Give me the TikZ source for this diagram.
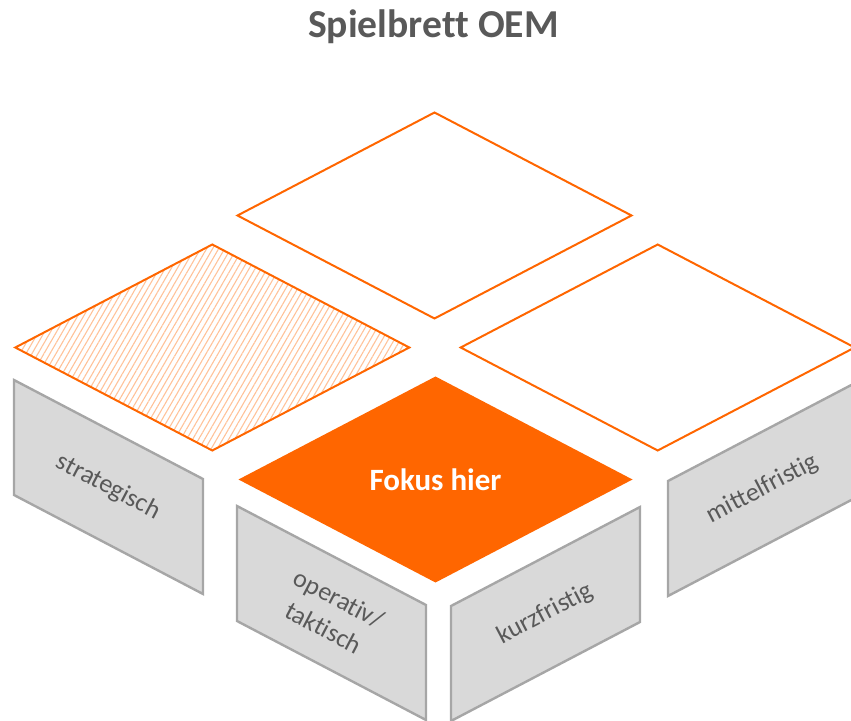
\documentclass[tikz,border=0pt]{standalone}
\usepackage{fontspec}
\setmainfont{Carlito}[Ligatures=NoCommon]
\usetikzlibrary{positioning}
\usetikzlibrary{patterns.meta}
\definecolor{oemorange}{HTML}{FF6600}
\definecolor{panelgray}{HTML}{D9D9D9}
\definecolor{panelline}{HTML}{A6A6A6}
\definecolor{textgray}{HTML}{595959}

\begin{document}
\begin{tikzpicture}[x=0.5pt, y=-0.5pt,
    field/.style={draw=oemorange, line width=1pt},
    hatched/.style={pattern={Lines[angle=60, distance=2.6pt, line width=0.55pt]},
                    pattern color=oemorange!40},
    panel/.style={draw=panelline, fill=panelgray, line width=1.2pt},
    panellabel/.style={text=textgray, align=center,
                       font=\fontsize{13}{16.5}\selectfont}]
  \useasboundingbox (0,0) rectangle (851,721);
  \clip (0,0) rectangle (851,721);

  \node[anchor=base, text=textgray, font=\bfseries\fontsize{19.8}{22}\selectfont]
    (titel) at (433.5,37.5) {Spielbrett OEM};

  % board fields, half width 197, half height 103
  \coordinate (oben)   at (434.5,215.5);
  \coordinate (links)  at (212.3,347.5);
  \coordinate (rechts) at (657.7,347.5);
  \coordinate (fokus)  at (435.5,479.5);
  \draw[field, hatched] (links) ++(0,-103) -- ++(197,103) -- ++(-197,103)
    -- ++(-197,-103) -- cycle;
  \foreach \f in {oben,rechts} {
    \draw[field, fill=white] (\f) ++(0,-103) -- ++(197,103) -- ++(-197,103)
      -- ++(-197,-103) -- cycle;
  }
  \fill[oemorange] (fokus) ++(0,-103) -- ++(197,103) -- ++(-197,103)
    -- ++(-197,-103) -- cycle;
  \node[anchor=base, text=white, font=\bfseries\fontsize{15.5}{18}\selectfont]
    (fokustext) at (435.5,490.5) {Fokus hier};

  % side panels (\s = +1 falls to the right, -1 rises)
  \foreach \x/\y/\s/\p in {14/380/1/strat, 237/506/1/opera,
                           451/606/-1/kurz, 668/481/-1/mittel} {
    \draw[panel] (\x,\y) -- ++(189,\s*99) -- ++(0,115) -- ++(-189,-\s*99) -- cycle;
    \coordinate (\p) at ({\x+94.5},{\y+\s*49.5+57.5});
  }
  \node[panellabel, rotate=-27.6] (lstrat)  at (strat)  {strategisch};
  \node[panellabel, rotate=-27.6] (lopera)  at (opera)  {operativ/\\taktisch};
  \node[panellabel, rotate=27.6]  (lkurz)   at (kurz)   {kurzfristig};
  \node[panellabel, rotate=27.6]  (lmittel) at (mittel) {mittelfristig};
\end{tikzpicture}
\end{document}
